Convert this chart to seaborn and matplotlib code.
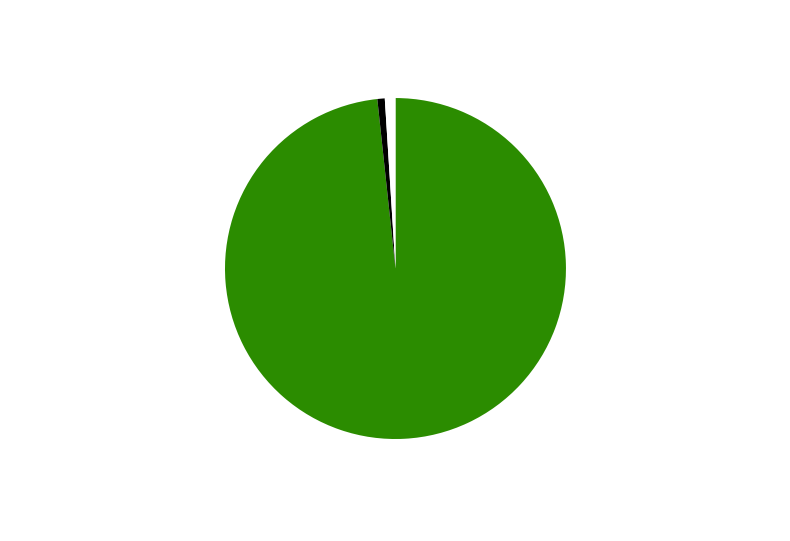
import matplotlib
matplotlib.use("Agg")
import matplotlib.pyplot as plt
import seaborn as sns

# slice shares (clockwise from the top)
labels = ["green", "black", "white"]
shares = [98.3, 0.7, 1.0]
colors = ["#2b8c00", "#000000", "#ffffff"]

sns.set_theme(style="white")

fig = plt.figure(figsize=(7.9, 5.41), dpi=100)
ax = fig.add_axes([0.2848, 0.1885, 0.4316, 0.6303])
ax.pie(shares, colors=colors, startangle=90, counterclock=False,
       radius=1, wedgeprops={"linewidth": 0})
ax.set_xlim(-1, 1)
ax.set_ylim(-1, 1)
ax.set_aspect("equal")
ax.axis("off")

fig.savefig("out.png", dpi=100)
